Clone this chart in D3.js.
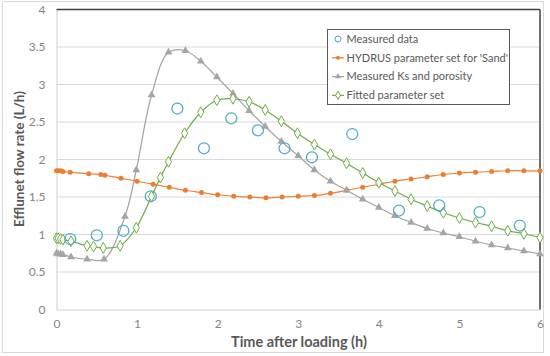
<!DOCTYPE html>
<meta charset="utf-8">
<style>
  body { margin: 0; background: #fff; }
  text { font-family: Lato, "Open Sans", sans-serif; fill: #595959; }
  .tick text { font-size: 12px; fill: #858585; }
  .legend text { font-size: 11px; }
</style>
<svg width="550" height="356"></svg>
<script src="https://d3js.org/d3.v7.min.js"></script>
<script>
  // measured data (circles)
  var measT = [0.17, 0.5, 0.83, 1.17, 1.5, 1.83, 2.17, 2.5, 2.83, 3.17, 3.67, 4.25, 4.75, 5.25, 5.75];
  var measV = [0.94, 0.99, 1.05, 1.51, 2.68, 2.15, 2.55, 2.39, 2.15, 2.03, 2.34, 1.32, 1.39, 1.30, 1.12];

  // HYDRUS 'Sand'
  var sandT = [0, 0.02, 0.05, 0.08, 0.17, 0.4, 0.55, 0.6, 0.8, 1.0, 1.2, 1.4, 1.6, 1.8, 2.0, 2.2, 2.4, 2.6, 2.8, 3.0,
               3.2, 3.4, 3.6, 3.8, 4.0, 4.2, 4.4, 4.6, 4.8, 5.0, 5.2, 5.4, 5.6, 5.8, 6.0];
  var sandV = [1.85, 1.85, 1.85, 1.84, 1.83, 1.81, 1.80, 1.79, 1.75, 1.71, 1.67, 1.63, 1.59, 1.56, 1.53, 1.51, 1.50, 1.49, 1.50, 1.51,
               1.52, 1.55, 1.59, 1.63, 1.67, 1.71, 1.74, 1.77, 1.80, 1.82, 1.83, 1.84, 1.85, 1.85, 1.85];

  // measured Ks and porosity
  var ksT = [0, 0.02, 0.05, 0.08, 0.18, 0.38, 0.59, 0.85, 0.99, 1.18, 1.39, 1.6, 1.79, 1.99, 2.19, 2.39, 2.59, 2.79, 3.0,
             3.2, 3.4, 3.6, 3.8, 4.0, 4.2, 4.4, 4.6, 4.8, 5.0, 5.2, 5.4, 5.6, 5.8, 6.0];
  var ksV = [0.75, 0.74, 0.74, 0.73, 0.70, 0.67, 0.67, 1.24, 1.86, 2.86, 3.43, 3.45, 3.31, 3.10, 2.88, 2.65, 2.44, 2.24, 2.05,
             1.86, 1.71, 1.59, 1.47, 1.36, 1.25, 1.16, 1.08, 1.02, 0.97, 0.91, 0.86, 0.82, 0.78, 0.74];

  // fitted parameter set
  var fitT = [0, 0.02, 0.05, 0.08, 0.18, 0.38, 0.46, 0.58, 0.79, 0.99, 1.18, 1.29, 1.39, 1.59, 1.79, 1.99, 2.19, 2.39, 2.59, 2.79, 2.99,
              3.2, 3.4, 3.6, 3.8, 4.0, 4.2, 4.4, 4.6, 4.8, 5.0, 5.2, 5.4, 5.6, 5.8, 6.0];
  var fitV = [0.95, 0.95, 0.94, 0.93, 0.91, 0.85, 0.84, 0.82, 0.85, 1.09, 1.51, 1.76, 1.97, 2.35, 2.63, 2.79, 2.81, 2.77, 2.66, 2.51, 2.35,
              2.20, 2.07, 1.95, 1.82, 1.69, 1.58, 1.47, 1.38, 1.29, 1.22, 1.16, 1.11, 1.05, 1.01, 0.96];

  var xTicks = [0, 1, 2, 3, 4, 5, 6];
  var yTicks = [0, 0.5, 1, 1.5, 2, 2.5, 3, 3.5, 4];

  var svg = d3.select("svg");
  var x = d3.scaleLinear().domain([0, 6]).range([56.5, 540]);
  var y = d3.scaleLinear().domain([0, 4]).range([309.5, 9.5]);

  var col = { meas: "#4bacc6", sand: "#ed7d31", ks: "#a5a5a5", fit: "#70ad47" };

  // outer frame
  svg.append("rect").attr("x", 2.5).attr("y", 1.5).attr("width", 541).attr("height", 351)
    .attr("fill", "#fff").attr("stroke", "#d9d9d9");

  // gridlines
  svg.append("g").selectAll("line").data(yTicks.filter(function (d) { return d > 0 && d < 4; }))
    .enter().append("line")
    .attr("x1", x(0)).attr("x2", x(6))
    .attr("y1", function (d) { return y(d); }).attr("y2", function (d) { return y(d); })
    .attr("stroke", "#d9d9d9").attr("stroke-width", 1);

  // axes
  var yAxis = svg.append("g").attr("transform", "translate(" + x(0) + ",0)")
    .call(d3.axisLeft(y).tickValues(yTicks).tickSize(0).tickPadding(11).tickFormat(d3.format("")));
  yAxis.select(".domain").attr("stroke", "#d0d0d0");

  var xAxis = svg.append("g").attr("transform", "translate(0," + y(0) + ")")
    .call(d3.axisBottom(x).tickValues(xTicks).tickSize(0).tickPadding(10).tickFormat(d3.format("d")));
  xAxis.select(".domain").attr("stroke", "#d0d0d0");

  // dark top and right borders
  svg.append("line").attr("x1", x(0)).attr("x2", x(6)).attr("y1", y(4)).attr("y2", y(4))
    .attr("stroke", "#404040").attr("stroke-width", 1.5);
  svg.append("line").attr("x1", x(6)).attr("x2", x(6)).attr("y1", y(4)).attr("y2", y(0))
    .attr("stroke", "#404040").attr("stroke-width", 1.5);

  // axis titles
  svg.append("text").attr("x", 299).attr("y", 347).attr("text-anchor", "middle")
    .attr("font-size", 14.5).attr("font-weight", "bold").text("Time after loading (h)");
  svg.append("text").attr("transform", "translate(24,159) rotate(-90)").attr("text-anchor", "middle")
    .attr("font-size", 13.5).attr("font-weight", "bold").text("Efflunet flow rate (L/h)");

  var line = d3.line()
    .x(function (d) { return x(d[0]); })
    .y(function (d) { return y(d[1]); })
    .curve(d3.curveCatmullRom.alpha(0.5));

  function zip(a, b) { return a.map(function (t, i) { return [t, b[i]]; }); }

  var sand = zip(sandT, sandV), ks = zip(ksT, ksV), fit = zip(fitT, fitV), meas = zip(measT, measV);

  // series lines
  svg.append("path").datum(sand).attr("d", line).attr("fill", "none").attr("stroke", col.sand).attr("stroke-width", 1.25);
  svg.append("path").datum(ks).attr("d", line).attr("fill", "none").attr("stroke", col.ks).attr("stroke-width", 1.25);
  svg.append("path").datum(fit).attr("d", line).attr("fill", "none").attr("stroke", col.fit).attr("stroke-width", 1.25);

  var tri = d3.symbol().type(d3.symbolTriangle).size(26);
  var dia = d3.symbol().type(d3.symbolDiamond).size(34);

  svg.append("g").selectAll("circle").data(sand).enter().append("circle")
    .attr("cx", function (d) { return x(d[0]); }).attr("cy", function (d) { return y(d[1]); })
    .attr("r", 2.5).attr("fill", col.sand);

  svg.append("g").selectAll("path").data(ks).enter().append("path")
    .attr("d", tri).attr("transform", function (d) { return "translate(" + x(d[0]) + "," + y(d[1]) + ")"; })
    .attr("fill", col.ks);

  svg.append("g").selectAll("path").data(fit).enter().append("path")
    .attr("d", dia).attr("transform", function (d) { return "translate(" + x(d[0]) + "," + y(d[1]) + ")"; })
    .attr("fill", "#fff").attr("stroke", col.fit).attr("stroke-width", 1);

  svg.append("g").selectAll("circle").data(meas).enter().append("circle")
    .attr("cx", function (d) { return x(d[0]); }).attr("cy", function (d) { return y(d[1]); })
    .attr("r", 5.5).attr("fill", "none").attr("stroke", col.meas).attr("stroke-width", 1.25);

  // legend
  var legendNames = ["Measured data", "HYDRUS parameter set for 'Sand'", "Measured Ks and porosity", "Fitted parameter set"];
  var lg = svg.append("g").attr("class", "legend");
  lg.append("rect").attr("x", 327.5).attr("y", 29.5).attr("width", 182).attr("height", 75)
    .attr("fill", "#fff").attr("stroke", "#595959");
  var items = lg.selectAll("g.item").data(legendNames).enter().append("g")
    .attr("transform", function (d, i) { return "translate(0," + (39 + i * 18.8) + ")"; });
  items.append("text").attr("x", 346.5).attr("dy", "0.35em").text(function (d) { return d; });
  items.filter(function (d, i) { return i > 0; }).append("line")
    .attr("x1", 332).attr("x2", 344)
    .attr("stroke", function (d, i) { return [col.sand, col.ks, col.fit][i]; }).attr("stroke-width", 1.25);
  items.each(function (d, i) {
    var g = d3.select(this);
    if (i === 0) g.append("circle").attr("cx", 338).attr("r", 3).attr("fill", "none").attr("stroke", col.meas);
    if (i === 1) g.append("circle").attr("cx", 338).attr("r", 2).attr("fill", col.sand);
    if (i === 2) g.append("path").attr("d", d3.symbol().type(d3.symbolTriangle).size(16)).attr("transform", "translate(338,0)").attr("fill", col.ks);
    if (i === 3) g.append("path").attr("d", d3.symbol().type(d3.symbolDiamond).size(20)).attr("transform", "translate(338,0)").attr("fill", "#fff").attr("stroke", col.fit);
  });
</script>
